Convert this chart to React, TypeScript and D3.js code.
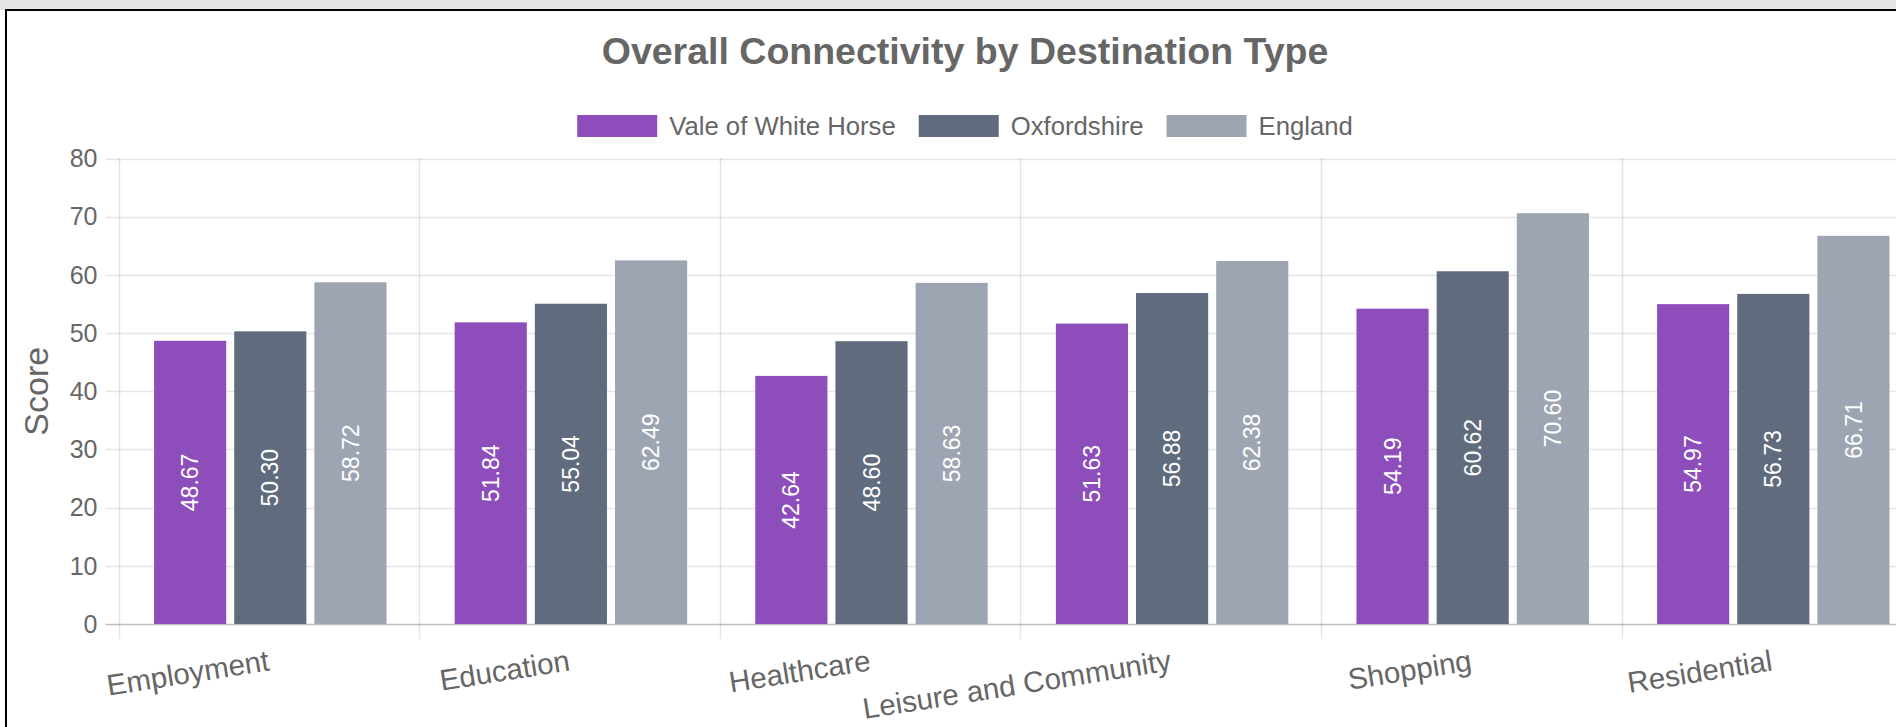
import React, { useRef, useEffect } from 'react'
import * as d3 from 'd3'

const categories = ['Employment', 'Education', 'Healthcare', 'Leisure and Community', 'Shopping', 'Residential']
const seriesNames = ['Vale of White Horse', 'Oxfordshire', 'England']
const valeValues = [48.67, 51.84, 42.64, 51.63, 54.19, 54.97]
const oxfordshireValues = [50.30, 55.04, 48.60, 56.88, 60.62, 56.73]
const englandValues = [58.72, 62.49, 58.63, 62.38, 70.60, 66.71]
const yTicks = [0, 10, 20, 30, 40, 50, 60, 70, 80]
const colors = ['#8d4dbb', '#606b7d', '#9ea5b2']

const W = 1896
const H = 727
const FONT = '"Liberation Sans", Arial, Helvetica, sans-serif'

function App() {
    const svgRef = useRef<SVGSVGElement>(null)

    useEffect(() => {
        const svg = d3.select(svgRef.current)
        svg.selectAll('*').remove()

        const values = [valeValues, oxfordshireValues, englandValues]
        const left = 118.5
        const catWidth = 300.6
        const top = 158.5
        const bottom = 624

        // frame
        svg.append('rect').attr('x', 0).attr('y', 0).attr('width', W).attr('height', 10).attr('fill', '#e4e4e4')
        svg.append('rect').attr('x', 6).attr('y', 10).attr('width', W + 20).attr('height', H + 20)
            .attr('fill', '#fff').attr('stroke', '#000').attr('stroke-width', 2)

        const x = d3.scaleBand<string>()
            .domain(categories)
            .range([left, left + catWidth * categories.length])
            .padding(0)
        const bw = x.bandwidth()
        const xs = d3.scaleBand<string>()
            .domain(seriesNames)
            .range([bw * 0.1, bw * 0.9])
            .paddingInner(0.1)
            .paddingOuter(0.05)
        const y = d3.scaleLinear().domain([0, 80]).range([bottom, top])

        // horizontal grid + tick marks
        const gy = svg.append('g')
        gy.selectAll('line')
            .data(yTicks)
            .join('line')
            .attr('x1', left - 13)
            .attr('x2', W + 10)
            .attr('y1', d => Math.round(y(d)) + 0.5)
            .attr('y2', d => Math.round(y(d)) + 0.5)
            .attr('stroke', d => d === 0 ? 'rgba(0,0,0,0.25)' : 'rgba(0,0,0,0.1)')
            .attr('stroke-width', 1.5)
        gy.selectAll('text')
            .data(yTicks)
            .join('text')
            .attr('x', left - 21)
            .attr('y', d => y(d))
            .attr('dy', '0.35em')
            .attr('text-anchor', 'end')
            .attr('font-family', FONT)
            .attr('font-size', 25)
            .attr('fill', '#666')
            .text(d => d)

        // vertical grid lines at category edges
        const edges = categories.map(c => x(c) as number).concat([left + catWidth * categories.length])
        svg.append('g').selectAll('line')
            .data(edges)
            .join('line')
            .attr('x1', d => Math.round(d) + 0.5)
            .attr('x2', d => Math.round(d) + 0.5)
            .attr('y1', top)
            .attr('y2', bottom + 15)
            .attr('stroke', 'rgba(0,0,0,0.1)')
            .attr('stroke-width', 1.5)

        // bars
        const groups = svg.append('g').selectAll('g')
            .data(categories)
            .join('g')
            .attr('transform', c => `translate(${(x(c) as number) + 1.5},0)`)
        groups.selectAll('rect')
            .data((c, i) => seriesNames.map((s, k) => ({ s, k, v: values[k][i] })))
            .join('rect')
            .attr('x', d => xs(d.s) as number)
            .attr('width', xs.bandwidth())
            .attr('y', d => y(d.v))
            .attr('height', d => y(0) - y(d.v))
            .attr('fill', d => colors[d.k])
        groups.selectAll('text')
            .data((c, i) => seriesNames.map((s, k) => ({ s, k, v: values[k][i] })))
            .join('text')
            .attr('transform', d => `translate(${(xs(d.s) as number) + xs.bandwidth() / 2},${(y(d.v) + y(0)) / 2}) rotate(-90)`)
            .attr('text-anchor', 'middle')
            .attr('dy', '0.35em')
            .attr('font-family', FONT)
            .attr('font-size', 23)
            .attr('fill', '#fff')
            .text(d => d.v.toFixed(2))

        // x labels, rotated
        svg.append('g').selectAll('text')
            .data(categories)
            .join('text')
            .attr('transform', c => `translate(${(x(c) as number) + bw / 2},660) rotate(-9)`)
            .attr('text-anchor', 'end')
            .attr('dy', '0.35em')
            .attr('font-family', FONT)
            .attr('font-size', 29.5)
            .attr('fill', '#666')
            .text(c => c)

        // y axis title
        svg.append('text')
            .attr('transform', `translate(36,${(top + bottom) / 2}) rotate(-90)`)
            .attr('text-anchor', 'middle')
            .attr('dy', '0.35em')
            .attr('font-family', FONT)
            .attr('font-size', 34)
            .attr('fill', '#666')
            .text('Score')

        // title
        svg.append('text')
            .attr('x', 965)
            .attr('y', 51)
            .attr('dy', '0.35em')
            .attr('text-anchor', 'middle')
            .attr('font-family', FONT)
            .attr('font-weight', 'bold')
            .attr('font-size', 37.5)
            .attr('fill', '#666')
            .text('Overall Connectivity by Destination Type')

        // legend
        const legend = svg.append('g')
        const boxW = 80
        const boxH = 22
        const items = seriesNames.map((s, k) => {
            const g = legend.append('g')
            g.append('rect').attr('width', boxW).attr('height', boxH).attr('y', -boxH / 2).attr('fill', colors[k])
            const t = g.append('text')
                .attr('x', boxW + 12)
                .attr('dy', '0.35em')
                .attr('font-family', FONT)
                .attr('font-size', 25.7)
                .attr('fill', '#666')
                .text(s)
            const tw = (t.node() as SVGTextElement).getComputedTextLength()
            return { g, w: boxW + 12 + tw }
        })
        const gap = 23
        const total = d3.sum(items, d => d.w) + gap * (items.length - 1)
        let cx = 965 - total / 2
        items.forEach(it => {
            it.g.attr('transform', `translate(${cx},126)`)
            cx += it.w + gap
        })
    }, [])

    return (
        <div style={{ position: 'absolute', left: 0, top: 0, width: W, height: H, overflow: 'hidden', background: '#fff' }}>
            <svg ref={svgRef} width={W} height={H} />
        </div>
    )
}

export default App
